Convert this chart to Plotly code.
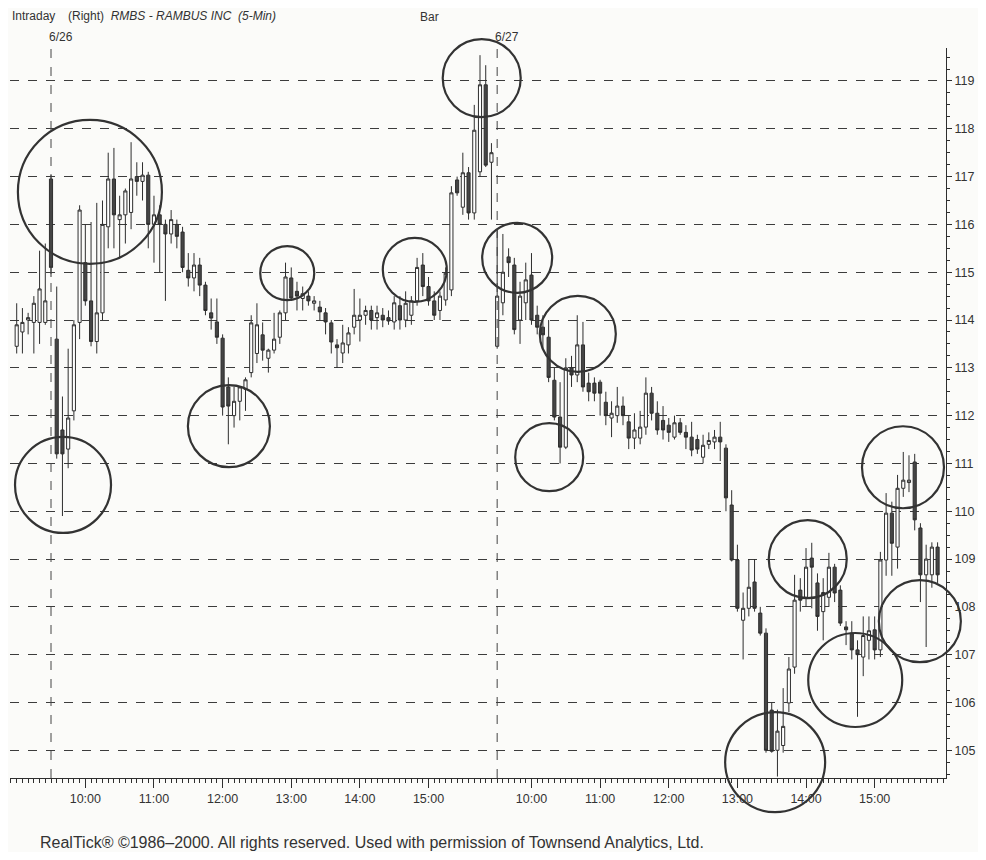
import plotly.graph_objects as go
from datetime import datetime, timedelta

# ---------------- data ----------------
# 6/25 closing bars (15:30-15:55)
pre_open  = [113.45, 113.75, 114.0, 113.95, 113.95, 113.95]
pre_high  = [114.35, 114.25, 114.15, 114.5, 115.45, 115.6]
pre_low   = [113.3, 113.3, 113.7, 113.3, 113.5, 113.9]
pre_close = [113.9, 113.95, 114.05, 114.35, 114.65, 114.4]

# 6/26 (9:30-15:55)
d1_open = [116.95, 113.6, 111.7, 111.3, 112.1, 113.95, 115.2, 114.4, 113.55, 114.15,
           115.95, 116.95, 116.1, 116.2, 116.25, 117.0, 116.9, 117.03, 116.0, 116.2,
           116.0, 115.8, 116.0, 115.84, 115.04, 114.88, 115.15, 114.73, 114.15, 113.96,
           113.62, 112.6, 112.0, 112.3, 112.55, 112.9, 113.3, 113.69, 113.2, 113.37,
           113.64, 114.15, 114.88, 114.6, 114.45, 114.5, 114.35, 114.27, 114.15, 113.94,
           113.48, 113.31, 113.48, 113.85, 114.0, 114.1, 114.2, 114.05, 114.1, 114.05,
           113.96, 114.3, 114.0, 114.1, 114.4, 115.15, 114.7, 114.4, 114.2, 114.42,
           114.63, 116.93, 116.36, 117.08, 116.24, 117.1, 118.92, 117.3]
d1_high = [117.05, 114.7, 112.4, 113.4, 114.0, 116.4, 116.0, 116.05, 116.45, 116.5,
           117.5, 117.6, 116.6, 116.75, 117.72, 117.3, 117.3, 117.1, 116.6, 116.4,
           116.1, 116.3, 116.1, 115.95, 115.4, 115.4, 115.3, 114.8, 114.45, 114.45,
           113.7, 112.8, 112.6, 112.6, 112.8, 114.1, 114.35, 113.95, 113.4, 114.15,
           114.2, 115.2, 115.1, 114.8, 114.7, 114.6, 114.5, 114.4, 114.25, 114.0,
           113.6, 113.9, 113.85, 114.65, 114.45, 114.3, 114.3, 114.3, 114.25, 114.2,
           114.5, 114.5, 114.6, 114.5, 115.3, 115.4, 114.9, 114.6, 114.6, 115.1,
           116.8, 117.0, 117.5, 117.2, 118.5, 119.54, 119.33, 117.7]
d1_low  = [114.9, 111.1, 109.9, 110.9, 111.9, 113.6, 114.3, 113.45, 113.3, 114.0,
           115.5, 115.5, 115.3, 115.6, 115.9, 116.6, 116.5, 115.5, 115.2, 115.0,
           114.4, 115.6, 115.5, 115.0, 114.7, 114.6, 114.5, 114.1, 113.8, 113.5,
           112.0, 111.4, 111.75, 111.9, 112.1, 112.8, 113.1, 113.15, 112.9, 113.3,
           113.5, 114.0, 114.4, 114.2, 114.2, 114.3, 114.2, 114.0, 113.7, 113.3,
           113.0, 113.1, 113.3, 113.7, 113.55, 113.9, 113.8, 113.8, 113.85, 113.9,
           113.8, 113.8, 113.85, 113.9, 114.3, 114.5, 114.3, 114.0, 114.0, 114.3,
           114.5, 116.6, 116.2, 116.1, 116.1, 117.0, 117.2, 116.1]
d1_close = [115.1, 111.2, 111.2, 111.95, 113.9, 116.3, 114.4, 113.55, 114.15, 116.0,
            116.95, 116.2, 116.2, 116.7, 116.95, 116.9, 117.03, 116.0, 116.2, 116.0,
            115.8, 116.1, 115.75, 115.1, 114.88, 115.15, 114.73, 114.2, 114.04, 113.64,
            112.18, 112.2, 112.3, 112.6, 112.75, 113.94, 113.9, 113.37, 113.37, 113.6,
            114.15, 114.9, 114.46, 114.5, 114.55, 114.4, 114.4, 114.17, 113.96, 113.54,
            113.42, 113.52, 113.73, 114.1, 114.1, 114.2, 114.0, 114.15, 114.0, 113.98,
            114.36, 114.0, 114.35, 114.4, 115.1, 114.7, 114.4, 114.1, 114.5, 114.98,
            116.66, 116.66, 117.08, 116.24, 117.97, 118.92, 117.24, 117.5]

# 6/27 (9:30-15:55)
d2_open = [113.45, 114.36, 115.32, 115.15, 114.0, 114.36, 114.94, 114.1, 113.85, 113.64,
           112.74, 111.97, 111.34, 113.0, 112.85, 113.48, 112.68, 112.68, 112.7, 112.28,
           111.95, 112.0, 112.2, 111.87, 111.53, 111.53, 111.76, 112.47, 112.05, 111.9,
           111.8, 111.55, 111.85, 111.65, 111.55, 111.5, 111.13, 111.4, 111.45, 111.55,
           111.32, 110.13, 108.98, 107.72, 107.97, 108.52, 107.87, 107.45, 105.84, 105.0,
           105.1, 105.99, 106.74, 108.35, 108.2, 109.02, 108.5, 107.9, 108.2, 108.83,
           108.35, 107.58, 107.45, 107.1, 106.95, 107.3, 107.52, 107.1, 108.98, 109.96,
           109.25, 110.48, 110.6, 111.03, 109.65, 108.67, 108.67, 109.25]
d2_high = [115.9, 115.8, 115.5, 115.3, 114.8, 115.2, 115.4, 114.3, 114.1, 114.0,
           113.0, 112.7, 113.2, 113.25, 114.1, 113.96, 112.9, 112.8, 112.75, 112.5,
           112.3, 112.6, 112.4, 112.0, 112.05, 112.1, 112.8, 112.6, 112.3, 112.2,
           111.95, 112.0, 111.95, 111.8, 111.87, 111.6, 111.6, 111.65, 111.7, 111.87,
           111.4, 110.44, 109.3, 108.3, 109.0, 109.0, 108.0, 107.55, 106.0, 105.85,
           106.3, 106.95, 108.67, 108.6, 109.23, 109.34, 108.7, 108.6, 109.13, 108.9,
           108.45, 107.7, 107.7, 107.3, 107.8, 107.8, 107.8, 109.15, 110.38, 110.2,
           110.76, 111.24, 111.17, 111.2, 109.75, 109.3, 109.35, 109.35]
d2_low  = [113.4, 114.1, 114.9, 113.7, 113.5, 114.0, 113.9, 113.7, 113.4, 112.7,
           111.9, 111.0, 111.3, 112.6, 112.7, 112.5, 112.3, 112.3, 112.0, 111.8,
           111.55, 111.85, 111.8, 111.3, 111.3, 111.4, 111.6, 111.9, 111.6, 111.5,
           111.45, 111.5, 111.6, 111.3, 111.15, 111.2, 111.0, 111.3, 111.3, 111.05,
           110.0, 108.95, 107.9, 106.9, 107.8, 107.9, 107.4, 104.95, 104.95, 104.45,
           104.95, 105.8, 106.6, 107.9, 108.0, 107.97, 107.5, 107.3, 108.0, 108.1,
           107.6, 107.2, 106.9, 105.7, 106.55, 106.9, 106.9, 106.95, 108.65, 108.65,
           108.8, 110.3, 110.4, 109.6, 108.1, 107.16, 108.4, 108.5]
d2_close = [114.5, 115.0, 115.2, 113.8, 114.5, 114.84, 114.0, 113.85, 113.69, 112.8,
            111.97, 111.34, 113.0, 112.85, 113.48, 112.6, 112.5, 112.47, 112.47, 112.0,
            112.05, 112.2, 112.0, 111.53, 111.7, 111.76, 112.47, 112.05, 111.7, 111.7,
            111.65, 111.85, 111.65, 111.55, 111.28, 111.3, 111.38, 111.48, 111.55, 111.45,
            110.28, 108.98, 107.97, 107.97, 108.41, 107.97, 107.45, 105.0, 104.98, 105.4,
            105.5, 106.7, 108.14, 108.14, 108.83, 108.83, 107.8, 108.3, 108.83, 108.29,
            107.66, 107.52, 107.1, 107.0, 107.4, 107.5, 107.1, 108.98, 109.96, 109.33,
            110.48, 110.65, 110.65, 109.82, 108.67, 109.0, 109.25, 108.67]

# Circled areas: (bar index of centre, price of centre, radius in px)
circle_bar    = [12.8, 8.1, 37.1, 47.3, 69.6, 81.3, 87.5, 98.1, 93.1, 132.6, 138.3, 146.6, 154.95, 157.9]
circle_price  = [116.68, 110.55, 111.78, 114.98, 115.05, 119.06, 115.3, 113.71, 111.13, 104.75, 109.0, 106.47, 110.92, 107.7]
circle_radius = [72, 48, 41, 27, 32, 39, 35, 38, 34, 50, 39, 47, 41, 41]

price_ticks = list(range(105, 120))
hour_labels = ["10:00", "11:00", "12:00", "13:00", "14:00", "15:00"]

X_RANGE = [-1.17, 162.47]
Y_RANGE = [104.42, 119.69]

# ---------------- build the bar timeline ----------------
times = []
t = datetime(2000, 6, 25, 15, 30)
for k in range(len(pre_open)):
    times.append(t + timedelta(minutes=5 * k))
t = datetime(2000, 6, 26, 9, 30)
for k in range(len(d1_open)):
    times.append(t + timedelta(minutes=5 * k))
t = datetime(2000, 6, 27, 9, 30)
for k in range(len(d2_open)):
    times.append(t + timedelta(minutes=5 * k))

opens = pre_open + d1_open + d2_open
highs = pre_high + d1_high + d2_high
lows = pre_low + d1_low + d2_low
closes = pre_close + d1_close + d2_close
idx = list(range(len(times)))

tickvals, ticktext = [], []
for i, tm in enumerate(times):
    lab = tm.strftime("%H:%M")
    if lab in hour_labels and tm.day != 25:
        tickvals.append(i)
        ticktext.append(lab)

day_start = [i for i, tm in enumerate(times) if tm.hour == 9 and tm.minute == 30]
day_names = ["%d/%d" % (times[i].month, times[i].day) for i in day_start]

INK = "#2e2e2e"
BG = "#fbfbf9"

fig = go.Figure()
fig.add_trace(go.Candlestick(
    x=idx, open=opens, high=highs, low=lows, close=closes,
    increasing=dict(line=dict(color=INK, width=1), fillcolor="#ffffff"),
    decreasing=dict(line=dict(color=INK, width=1), fillcolor="#454545"),
    whiskerwidth=0, showlegend=False, hoverinfo="skip"))

# circles anchored on the data, drawn in paper space so they are not clipped at the plot edge
for cx, cy, r in zip(circle_bar, circle_price, circle_radius):
    px_ = (cx - X_RANGE[0]) / (X_RANGE[1] - X_RANGE[0])
    py_ = (cy - Y_RANGE[0]) / (Y_RANGE[1] - Y_RANGE[0])
    fig.add_shape(type="circle", xref="paper", yref="paper",
                  xsizemode="pixel", ysizemode="pixel",
                  xanchor=px_, yanchor=py_, x0=-r, x1=r, y0=-r, y1=r,
                  line=dict(color="#333333", width=2.2), layer="above")

for i, name in zip(day_start, day_names):
    fig.add_shape(type="line", xref="x", yref="paper", x0=i, x1=i, y0=0, y1=1.01,
                  line=dict(color="#444444", width=1, dash="dash"))
    fig.add_annotation(x=i, xref="x", y=1.0, yref="paper", text=name, showarrow=False,
                       xanchor="left", yanchor="middle", xshift=-4, yshift=11,
                       font=dict(size=12, color="#333333"))

font_fam = "Liberation Sans, Arial, sans-serif"
fig.add_annotation(x=0, xref="paper", y=1.044, yref="paper", text="Intraday",
                   showarrow=False, xanchor="left", yanchor="middle",
                   font=dict(size=12, color="#333333"))
fig.add_annotation(x=0.060, xref="paper", y=1.044, yref="paper",
                   text="(Right)  <i>RMBS - RAMBUS INC  (5-Min)</i>",
                   showarrow=False, xanchor="left", yanchor="middle",
                   font=dict(size=12, color="#333333"))
fig.add_annotation(x=0.436, xref="paper", y=1.043, yref="paper", text="Bar",
                   showarrow=False, xanchor="left", yanchor="middle",
                   font=dict(size=12, color="#333333"))
fig.add_annotation(x=0.030, xref="paper", y=-0.089, yref="paper",
                   text="RealTick® ©1986–2000. All rights reserved. Used with permission of Townsend Analytics, Ltd.",
                   showarrow=False, xanchor="left", yanchor="middle",
                   font=dict(size=16, color="#333333"))

fig.update_layout(
    width=978, height=844,
    margin=dict(l=2, r=40, t=40, b=74),
    paper_bgcolor=BG, plot_bgcolor=BG,
    font=dict(family=font_fam, color="#333333"),
    showlegend=False,
    boxgap=0.22,
    xaxis=dict(range=X_RANGE, tickmode="array", tickvals=tickvals, ticktext=ticktext,
               ticks="outside", ticklen=9, tickcolor=INK, showline=True, linecolor=INK,
               linewidth=1, showgrid=False, zeroline=False, rangeslider=dict(visible=False),
               tickfont=dict(size=12.5, color="#333333"),
               minor=dict(ticks="outside", ticklen=4, tickmode="linear", tick0=0, dtick=1,
                          tickcolor=INK, showgrid=False)),
    yaxis=dict(range=Y_RANGE, side="right", tickmode="array", tickvals=price_ticks,
               showgrid=True, gridcolor="#3c3c3c", griddash="dash", gridwidth=1,
               showline=True, linecolor=INK, linewidth=1, ticks="outside", ticklen=5,
               tickcolor=INK, zeroline=False, tickfont=dict(size=12.5, color="#333333"),
               minor=dict(ticks="outside", ticklen=3, tickmode="linear", tick0=0, dtick=0.25,
                          tickcolor=INK, showgrid=False)),
)

fig.write_html("out.html")
